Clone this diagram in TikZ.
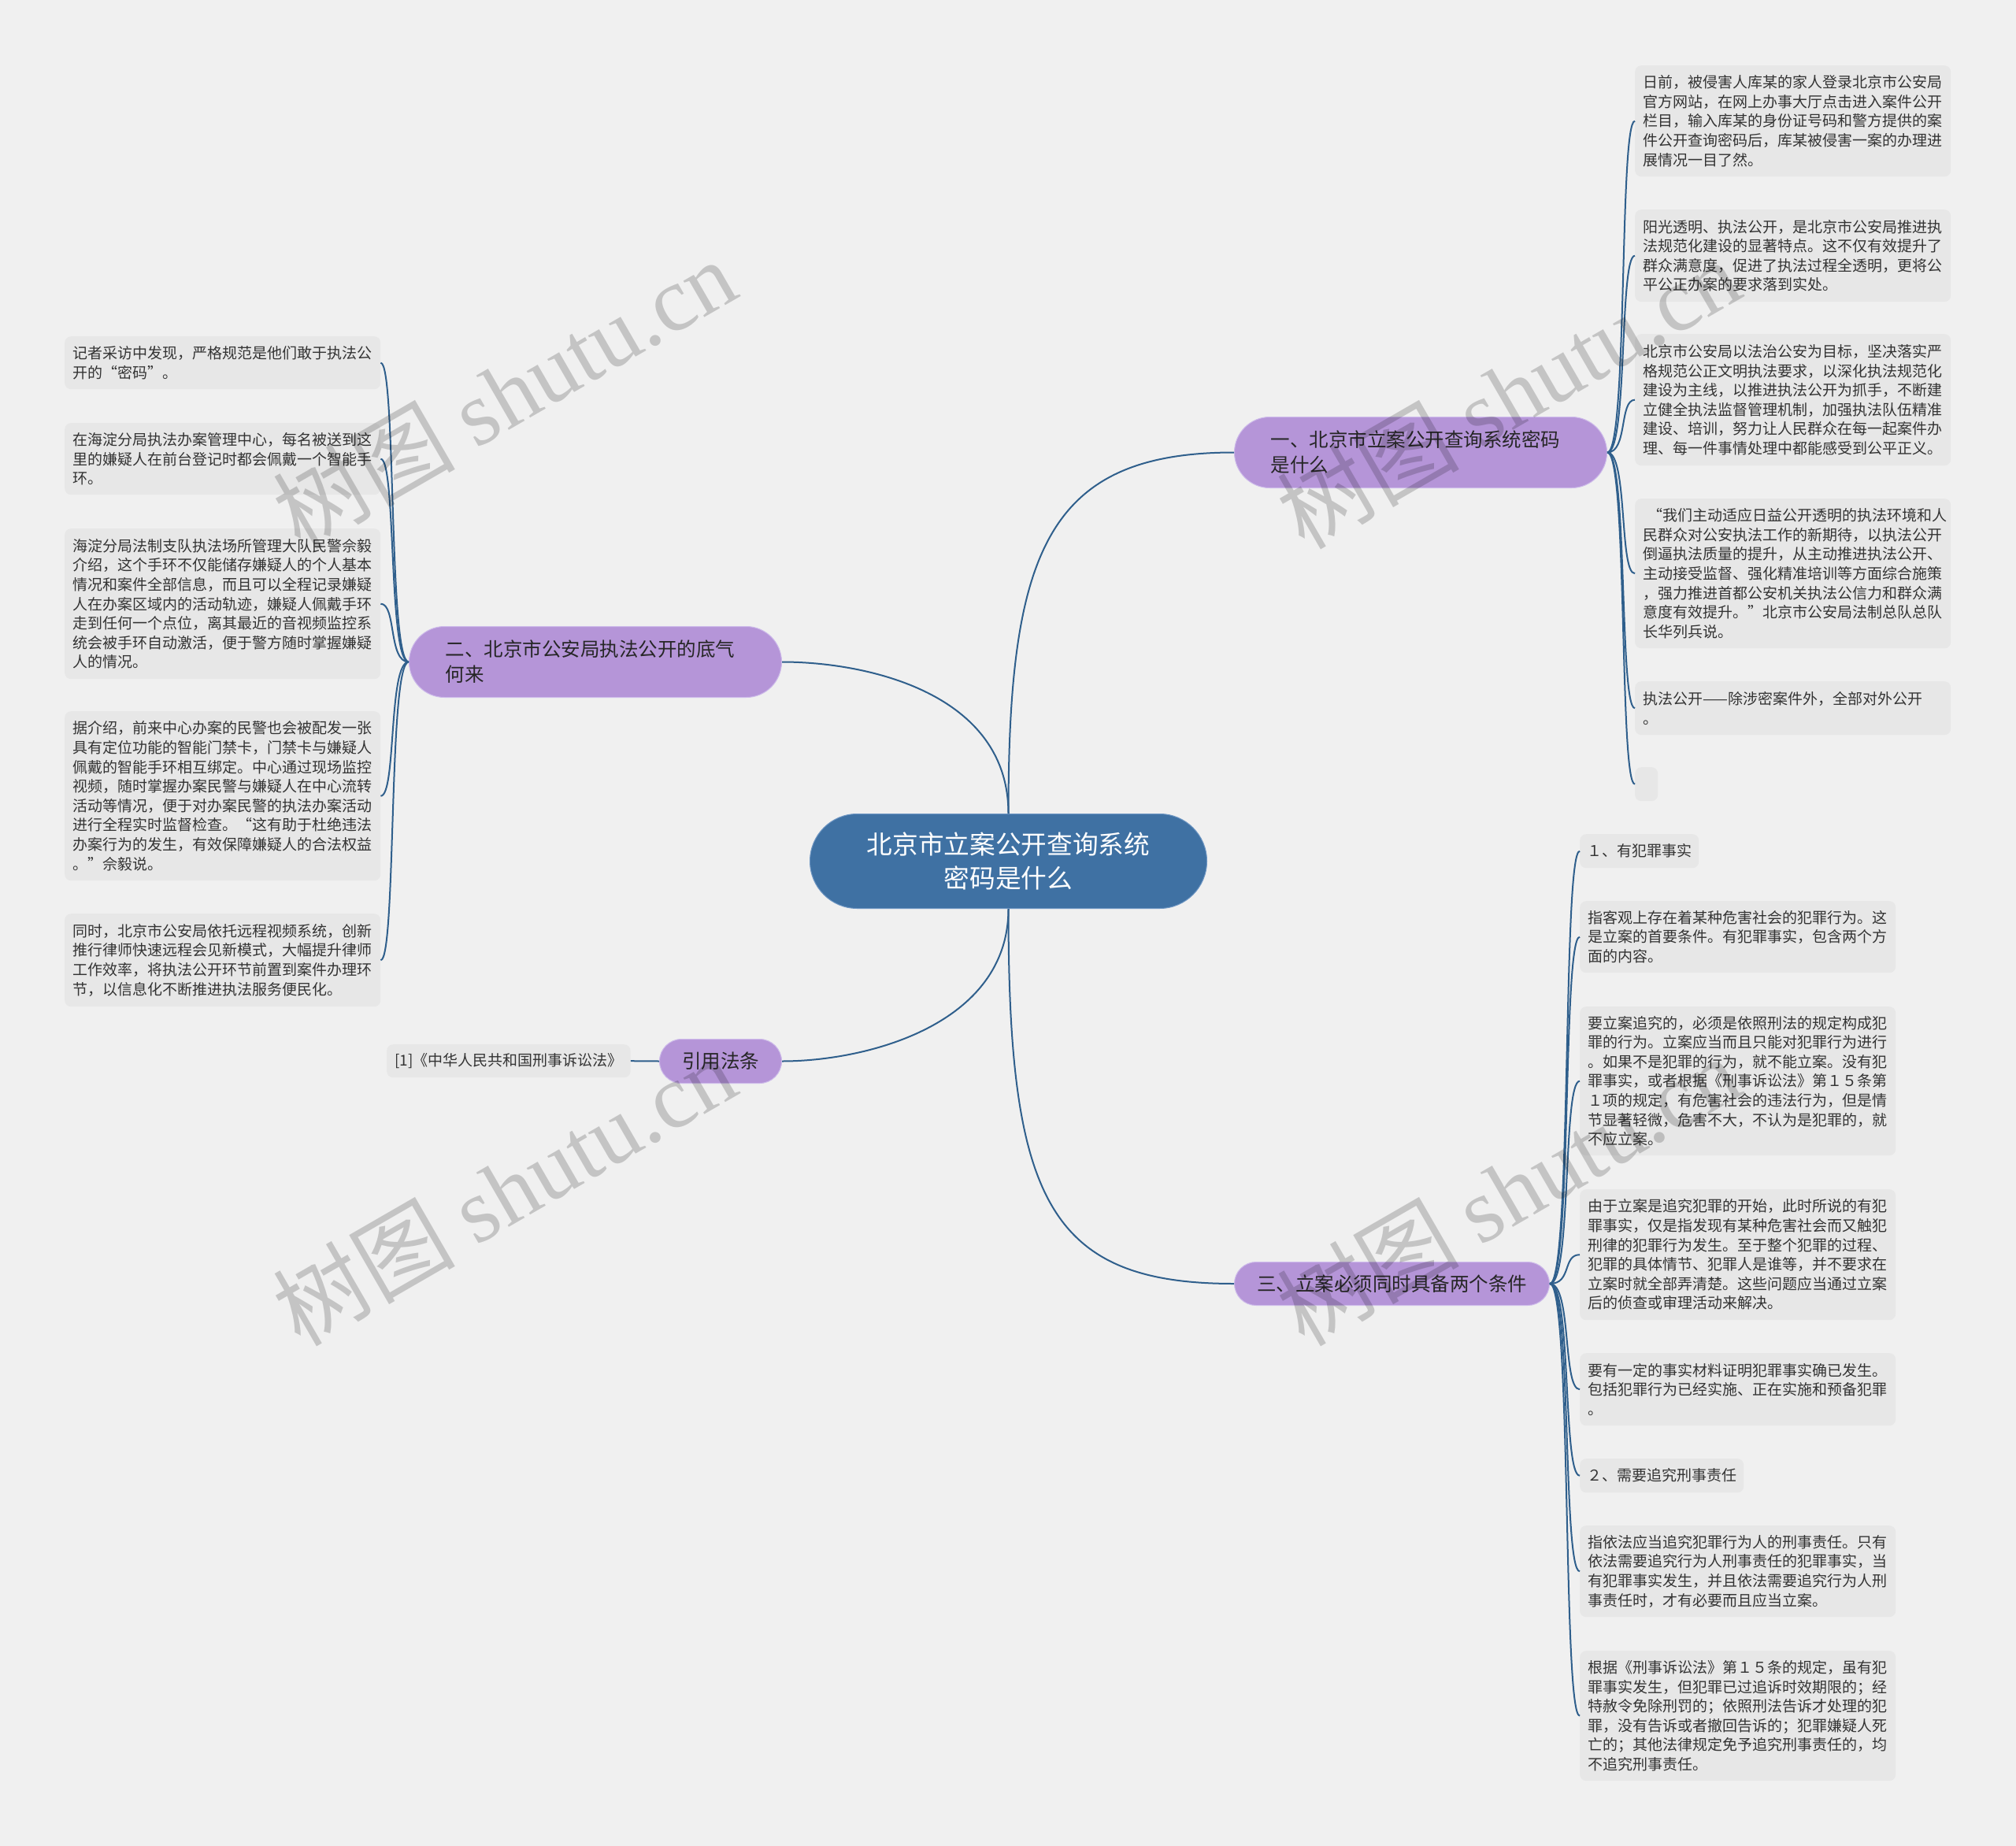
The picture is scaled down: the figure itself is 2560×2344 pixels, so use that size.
\documentclass[tikz,border=0pt]{standalone}
\usepackage{fontspec}
\setmainfont{Noto Sans CJK SC}
\newfontfamily\wmlatin{Liberation Serif}
\definecolor{bgc}{RGB}{240,240,240}
\definecolor{leafc}{RGB}{231,231,231}
\definecolor{leaftext}{RGB}{51,51,51}
\definecolor{purp}{RGB}{181,149,216}
\definecolor{purpedge}{RGB}{205,186,234}
\definecolor{centerc}{RGB}{63,113,163}
\definecolor{centeredge}{RGB}{110,150,195}
\definecolor{linec}{RGB}{47,95,140}
\newcommand\leaffont{\fontsize{19}{24.6}\selectfont}
\newcommand\branchfont{\fontsize{24.5}{32}\selectfont}
\newcommand\centerfont{\fontsize{32.7}{43}\selectfont}
\tikzset{
  boxbase/.style={fill=leafc, rounded corners=8pt, anchor=north west, inner ysep=0pt, font=\leaffont, text=leaftext},
  leaf/.style={boxbase, inner xsep=10.5pt, text width=380pt, align=left, minimum width=401pt},
  tagbox/.style={boxbase, inner xsep=9pt, minimum height=43pt},
  branch/.style={fill=purp, draw=purpedge, line width=1pt, anchor=north west, inner ysep=0pt, font=\branchfont, text=black!85},
  conn/.style={draw=linec, line width=2pt},
  wm/.style={font=\fontsize{116}{116}\selectfont, text=black, text opacity=0.18, rotate=30, inner sep=0pt}
}
\begin{document}
\begin{tikzpicture}[x=1pt,y=-1pt]
\useasboundingbox (0,0) rectangle (2560,2344);
\fill[bgc] (0,0) rectangle (2560,2344);

% center
\node[fill=centerc, draw=centeredge, line width=1pt, rounded corners=60pt, anchor=north west,
      minimum width=504pt, minimum height=120pt, inner sep=0pt, align=center,
      font=\centerfont, text=white] (c) at (1028,1033) {北京市立案公开查询系统\\密码是什么};

% branches
\node[branch, rounded corners=45pt, minimum width=473pt, minimum height=90pt, inner xsep=46pt,
      text width=381pt, align=left] (b1) at (1567,529) {一、北京市立案公开查询系统密码\\是什么};
\node[branch, rounded corners=45pt, minimum width=473pt, minimum height=90pt, inner xsep=46pt,
      text width=381pt, align=left] (b2) at (519,795) {二、北京市公安局执法公开的底气\\何来};
\node[branch, rounded corners=27.5pt, minimum width=400pt, minimum height=55pt, align=center] (b3) at (1567,1602) {三、立案必须同时具备两个条件};
\node[branch, rounded corners=28pt, minimum width=155pt, minimum height=56pt, align=center] (ref) at (837,1319) {引用法条};

% right top leaves
\node[leaf, minimum height=141pt] (r1) at (2076,83) {日前，被侵害人库某的家人登录北京市公安局\\官方网站，在网上办事大厅点击进入案件公开\\栏目，输入库某的身份证号码和警方提供的案\\件公开查询密码后，库某被侵害一案的办理进\\展情况一目了然。};
\node[leaf, minimum height=117pt] (r2) at (2076,266) {阳光透明、执法公开，是北京市公安局推进执\\法规范化建设的显著特点。这不仅有效提升了\\群众满意度，促进了执法过程全透明，更将公\\平公正办案的要求落到实处。};
\node[leaf, minimum height=167pt] (r3) at (2076,424) {北京市公安局以法治公安为目标，坚决落实严\\格规范公正文明执法要求，以深化执法规范化\\建设为主线，以推进执法公开为抓手，不断建\\立健全执法监督管理机制，加强执法队伍精准\\建设、培训，努力让人民群众在每一起案件办\\理、每一件事情处理中都能感受到公平正义。};
\node[leaf, minimum height=190pt] (r4) at (2076,633) {\hspace*{0.3em}“我们主动适应日益公开透明的执法环境和人\\民群众对公安执法工作的新期待，以执法公开\\倒逼执法质量的提升，从主动推进执法公开、\\主动接受监督、强化精准培训等方面综合施策\\，强力推进首都公安机关执法公信力和群众满\\意度有效提升。”北京市公安局法制总队总队\\长华列兵说。};
\node[leaf, minimum height=68pt] (r5) at (2076,865) {执法公开——除涉密案件外，全部对外公开\\。};
\node[boxbase, minimum width=29pt, minimum height=43pt, inner sep=0pt] (r6) at (2076,974) {};

% left leaves
\node[leaf, minimum height=67pt] (l1) at (82,427) {记者采访中发现，严格规范是他们敢于执法公\\开的“密码”。};
\node[leaf, minimum height=91pt] (l2) at (82,537) {在海淀分局执法办案管理中心，每名被送到这\\里的嫌疑人在前台登记时都会佩戴一个智能手\\环。};
\node[leaf, minimum height=191pt] (l3) at (82,671) {海淀分局法制支队执法场所管理大队民警佘毅\\介绍，这个手环不仅能储存嫌疑人的个人基本\\情况和案件全部信息，而且可以全程记录嫌疑\\人在办案区域内的活动轨迹，嫌疑人佩戴手环\\走到任何一个点位，离其最近的音视频监控系\\统会被手环自动激活，便于警方随时掌握嫌疑\\人的情况。};
\node[leaf, minimum height=215pt] (l4) at (82,903) {据介绍，前来中心办案的民警也会被配发一张\\具有定位功能的智能门禁卡，门禁卡与嫌疑人\\佩戴的智能手环相互绑定。中心通过现场监控\\视频，随时掌握办案民警与嫌疑人在中心流转\\活动等情况，便于对办案民警的执法办案活动\\进行全程实时监督检查。“这有助于杜绝违法\\办案行为的发生，有效保障嫌疑人的合法权益\\。”佘毅说。};
\node[leaf, minimum height=118pt] (l5) at (82,1160) {同时，北京市公安局依托远程视频系统，创新\\推行律师快速远程会见新模式，大幅提升律师\\工作效率，将执法公开环节前置到案件办理环\\节，以信息化不断推进执法服务便民化。};

% reference leaf
\node[tagbox, minimum height=42pt, inner xsep=10pt] (lf) at (491,1326) {[1]《中华人民共和国刑事诉讼法》};

% right bottom leaves
\node[tagbox] (s1) at (2006,1059) {１、有犯罪事实};
\node[leaf, minimum height=91pt] (s2) at (2006,1144) {指客观上存在着某种危害社会的犯罪行为。这\\是立案的首要条件。有犯罪事实，包含两个方\\面的内容。};
\node[leaf, minimum height=189pt] (s3) at (2006,1278) {要立案追究的，必须是依照刑法的规定构成犯\\罪的行为。立案应当而且只能对犯罪行为进行\\。如果不是犯罪的行为，就不能立案。没有犯\\罪事实，或者根据《刑事诉讼法》第１５条第\\１项的规定，有危害社会的违法行为，但是情\\节显著轻微，危害不大，不认为是犯罪的，就\\不应立案。};
\node[leaf, minimum height=166pt] (s4) at (2006,1510) {由于立案是追究犯罪的开始，此时所说的有犯\\罪事实，仅是指发现有某种危害社会而又触犯\\刑律的犯罪行为发生。至于整个犯罪的过程、\\犯罪的具体情节、犯罪人是谁等，并不要求在\\立案时就全部弄清楚。这些问题应当通过立案\\后的侦查或审理活动来解决。};
\node[leaf, minimum height=92pt] (s5) at (2006,1718) {要有一定的事实材料证明犯罪事实确已发生。\\包括犯罪行为已经实施、正在实施和预备犯罪\\。};
\node[tagbox] (s6) at (2006,1852) {２、需要追究刑事责任};
\node[leaf, minimum height=116pt] (s7) at (2006,1937) {指依法应当追究犯罪行为人的刑事责任。只有\\依法需要追究行为人刑事责任的犯罪事实，当\\有犯罪事实发生，并且依法需要追究行为人刑\\事责任时，才有必要而且应当立案。};
\node[leaf, minimum height=165pt] (s8) at (2006,2096) {根据《刑事诉讼法》第１５条的规定，虽有犯\\罪事实发生，但犯罪已过追诉时效期限的；经\\特赦令免除刑罚的；依照刑法告诉才处理的犯\\罪，没有告诉或者撤回告诉的；犯罪嫌疑人死\\亡的；其他法律规定免予追究刑事责任的，均\\不追究刑事责任。};

% main connectors
\draw[conn] (c.north) .. controls +(0,-333) and +(-237,0) .. (b1.west);
\draw[conn] (c.north) .. controls +(0,-153) and +(108,0) .. (b2.east);
\draw[conn] (c.south) .. controls +(0,147) and +(108,0) .. (ref.east);
\draw[conn] (c.south) .. controls +(0,367) and +(-237,0) .. (b3.west);

% sub connectors
\foreach \n in {r1,r2,r3,r4,r5,r6}
  \draw[conn] (b1.east) .. controls +(26,0) and +(-20,0) .. (\n.west);
\foreach \n in {l1,l2,l3,l4,l5}
  \draw[conn] (b2.west) .. controls +(-26,0) and +(20,0) .. (\n.east);
\foreach \n in {s1,s2,s3,s4,s5,s6,s7,s8}
  \draw[conn] (b3.east) .. controls +(28,0) and +(-22,0) .. (\n.west);
\draw[conn] (ref.west) -- (lf.east);

% watermarks
\node[wm] (w1) at (640,499) {树图 {\wmlatin shutu.cn}};
\node[wm] (w2) at (1915,499) {树图 {\wmlatin shutu.cn}};
\node[wm] (w3) at (640,1511) {树图 {\wmlatin shutu.cn}};
\node[wm] (w4) at (1915,1511) {树图 {\wmlatin shutu.cn}};
\end{tikzpicture}
\end{document}
